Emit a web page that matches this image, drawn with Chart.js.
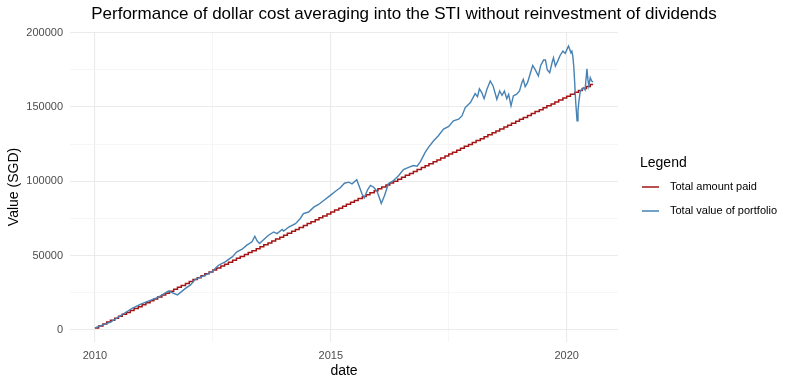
<!DOCTYPE html>
<html>
<head>
<meta charset="utf-8">
<title>STI dollar cost averaging</title>
<script src="https://cdn.jsdelivr.net/npm/chart.js@4.4.1/dist/chart.umd.min.js"></script>
<style>
  html, body { margin: 0; padding: 0; background: #fff; }
  canvas { display: block; }
</style>
</head>
<body>
<canvas id="sti-chart" width="800" height="387"></canvas>
<script>
// monthly payment dates (decimal years) and cumulative amount paid, Jan 2010 - Jul 2020, plus end of data
const paidDates = [
  2010.00, 2010.08, 2010.17, 2010.25, 2010.33, 2010.42, 2010.50, 2010.58, 2010.67, 2010.75, 2010.83, 2010.92,
  2011.00, 2011.08, 2011.17, 2011.25, 2011.33, 2011.42, 2011.50, 2011.58, 2011.67, 2011.75, 2011.83, 2011.92,
  2012.00, 2012.08, 2012.17, 2012.25, 2012.33, 2012.42, 2012.50, 2012.58, 2012.67, 2012.75, 2012.83, 2012.92,
  2013.00, 2013.08, 2013.17, 2013.25, 2013.33, 2013.42, 2013.50, 2013.58, 2013.67, 2013.75, 2013.83, 2013.92,
  2014.00, 2014.08, 2014.17, 2014.25, 2014.33, 2014.42, 2014.50, 2014.58, 2014.67, 2014.75, 2014.83, 2014.92,
  2015.00, 2015.08, 2015.17, 2015.25, 2015.33, 2015.42, 2015.50, 2015.58, 2015.67, 2015.75, 2015.83, 2015.92,
  2016.00, 2016.08, 2016.17, 2016.25, 2016.33, 2016.42, 2016.50, 2016.58, 2016.67, 2016.75, 2016.83, 2016.92,
  2017.00, 2017.08, 2017.17, 2017.25, 2017.33, 2017.42, 2017.50, 2017.58, 2017.67, 2017.75, 2017.83, 2017.92,
  2018.00, 2018.08, 2018.17, 2018.25, 2018.33, 2018.42, 2018.50, 2018.58, 2018.67, 2018.75, 2018.83, 2018.92,
  2019.00, 2019.08, 2019.17, 2019.25, 2019.33, 2019.42, 2019.50, 2019.58, 2019.67, 2019.75, 2019.83, 2019.92,
  2020.00, 2020.08, 2020.17, 2020.25, 2020.33, 2020.42, 2020.50, 2020.56
];
const amountPaid = [
  1300, 2600, 3900, 5200, 6500, 7800, 9100, 10400, 11700, 13000, 14300, 15600,
  16900, 18200, 19500, 20800, 22100, 23400, 24700, 26000, 27300, 28600, 29900, 31200,
  32500, 33800, 35100, 36400, 37700, 39000, 40300, 41600, 42900, 44200, 45500, 46800,
  48100, 49400, 50700, 52000, 53300, 54600, 55900, 57200, 58500, 59800, 61100, 62400,
  63700, 65000, 66300, 67600, 68900, 70200, 71500, 72800, 74100, 75400, 76700, 78000,
  79300, 80600, 81900, 83200, 84500, 85800, 87100, 88400, 89700, 91000, 92300, 93600,
  94900, 96200, 97500, 98800, 100100, 101400, 102700, 104000, 105300, 106600, 107900, 109200,
  110500, 111800, 113100, 114400, 115700, 117000, 118300, 119600, 120900, 122200, 123500, 124800,
  126100, 127400, 128700, 130000, 131300, 132600, 133900, 135200, 136500, 137800, 139100, 140400,
  141700, 143000, 144300, 145600, 146900, 148200, 149500, 150800, 152100, 153400, 154700, 156000,
  157300, 158600, 159900, 161200, 162500, 163800, 165100, 165100
];

// portfolio value
const valueDates = [
  2010.00, 2010.33, 2010.79, 2010.96, 2011.32, 2011.56, 2011.75, 2011.92, 2012.02, 2012.13,
  2012.34, 2012.48, 2012.62, 2012.76, 2012.91, 2013.01, 2013.12, 2013.22, 2013.33, 2013.39,
  2013.44, 2013.49, 2013.58, 2013.68, 2013.79, 2013.86, 2013.97, 2014.00, 2014.11, 2014.25,
  2014.35, 2014.42, 2014.53, 2014.64, 2014.74, 2014.85, 2014.99, 2015.10, 2015.20, 2015.29,
  2015.38, 2015.45, 2015.55, 2015.61, 2015.66, 2015.71, 2015.78, 2015.84, 2015.91, 2015.98,
  2016.05, 2016.07, 2016.14, 2016.22, 2016.33, 2016.44, 2016.54, 2016.65, 2016.75, 2016.83,
  2016.90, 2017.00, 2017.07, 2017.18, 2017.28, 2017.39, 2017.50, 2017.60, 2017.71, 2017.78,
  2017.85, 2017.96, 2018.06, 2018.11, 2018.15, 2018.20, 2018.25, 2018.31, 2018.38, 2018.44,
  2018.52, 2018.58, 2018.63, 2018.68, 2018.73, 2018.77, 2018.82, 2018.87, 2018.94, 2019.00,
  2019.05, 2019.08, 2019.12, 2019.17, 2019.23, 2019.28, 2019.33, 2019.40, 2019.45, 2019.51,
  2019.55, 2019.59, 2019.64, 2019.69, 2019.72, 2019.76, 2019.81, 2019.86, 2019.92, 2019.97,
  2020.02, 2020.04, 2020.09, 2020.11, 2020.13, 2020.15, 2020.17, 2020.19, 2020.22, 2020.24,
  2020.26, 2020.29, 2020.33, 2020.36, 2020.39, 2020.43, 2020.45, 2020.47, 2020.50, 2020.53,
  2020.56
];
const portfolioValue = [
  1300, 5200, 14500, 17200, 21600, 26100, 23500, 27900, 30100, 34000,
  36800, 39100, 43500, 45800, 49100, 52500, 54300, 57000, 59200, 63000,
  59800, 58100, 60800, 63700, 65900, 64800, 67500, 66500, 69200, 71500,
  74800, 78200, 79300, 82600, 84400, 87100, 90500, 93300, 95600, 98700,
  99400, 98300, 101000, 96000, 91600, 88900, 94300, 97200, 96000, 93300,
  87100, 85100, 90500, 98300, 100500, 103900, 107900, 109400, 110600, 110100,
  113200, 119500, 122800, 127300, 130700, 135100, 136900, 140700, 141800, 144000,
  149600, 153000, 159000, 157000, 162300, 159700, 155600, 161900, 167500, 164200,
  155200, 160800, 157900, 160800, 155600, 158600, 150800, 157500, 158600, 160800,
  166400, 168600, 163700, 166400, 172700, 178000, 175300, 170900, 178000, 181600,
  181600, 174900, 173100, 179800, 183100, 177500, 180900, 184700, 187600, 186100,
  189800, 191000, 186500, 187600, 184300, 177500, 166400, 154100, 140700, 147400,
  154100, 160800, 161900, 163000, 161500, 175700, 168600, 164200, 169700, 167500,
  166800
];

const xTicks = [2010, 2012.5, 2015, 2017.5, 2020];
const yTicks = [0, 25000, 50000, 75000, 100000, 125000, 150000, 175000, 200000];

const seriesNames = ['Total amount paid', 'Total value of portfolio'];
const seriesColors = ['#a31515', '#4682b4'];

const fontFamily = '"Liberation Sans", Arial, Helvetica, sans-serif';

// title and legend drawn in the free space around the plot
const annotations = {
  id: 'annotations',
  afterDraw(chart) {
    const ctx = chart.ctx;
    ctx.save();
    ctx.fillStyle = '#000';
    ctx.textBaseline = 'middle';
    ctx.font = '17px ' + fontFamily;
    ctx.textAlign = 'center';
    ctx.fillText('Performance of dollar cost averaging into the STI without reinvestment of dividends', 404, 14);

    ctx.textAlign = 'left';
    ctx.font = '14px ' + fontFamily;
    ctx.fillText('Legend', 640, 163);
    ctx.font = '11px ' + fontFamily;
    seriesNames.forEach((name, i) => {
      const y = 187 + i * 24;
      ctx.strokeStyle = seriesColors[i];
      ctx.lineWidth = 1.5;
      ctx.beginPath();
      ctx.moveTo(642, y);
      ctx.lineTo(659, y);
      ctx.stroke();
      ctx.fillText(name, 670, y);
    });
    ctx.restore();
  }
};

new Chart(document.getElementById('sti-chart').getContext('2d'), {
  type: 'line',
  data: {
    datasets: [
      {
        label: seriesNames[1],
        data: valueDates.map((d, i) => ({ x: d, y: portfolioValue[i] })),
        borderColor: seriesColors[1],
        borderWidth: 1.4,
        pointRadius: 0,
        tension: 0
      },
      {
        label: seriesNames[0],
        data: paidDates.map((d, i) => ({ x: d, y: amountPaid[i] })),
        borderColor: seriesColors[0],
        borderWidth: 1.5,
        pointRadius: 0,
        stepped: 'before'
      }
    ]
  },
  options: {
    responsive: false,
    animation: false,
    layout: { padding: { top: 32, right: 182, left: 0, bottom: 0 } },
    plugins: {
      legend: { display: false },
      title: { display: false },
      tooltip: { enabled: false }
    },
    scales: {
      x: {
        type: 'linear',
        min: 2009.472,
        max: 2021.088,
        afterBuildTicks: axis => { axis.ticks = xTicks.map(v => ({ value: v })); },
        afterFit: axis => { axis.height = 45; },
        border: { display: false },
        grid: {
          drawTicks: false,
          color: c => (c.tick && c.tick.value % 5 === 0) ? '#ebebeb' : '#f4f4f4',
          lineWidth: c => (c.tick && c.tick.value % 5 === 0) ? 1.1 : 0.8
        },
        ticks: {
          padding: 7,
          color: '#4d4d4d',
          font: { family: fontFamily, size: 11 },
          maxRotation: 0,
          callback: v => (v % 5 === 0 ? String(v) : '')
        },
        title: {
          display: true,
          text: 'date',
          color: '#000',
          font: { family: fontFamily, size: 14 },
          padding: { top: 0, bottom: 7 }
        }
      },
      y: {
        type: 'linear',
        min: -8200,
        max: 200500,
        afterBuildTicks: axis => { axis.ticks = yTicks.map(v => ({ value: v })); },
        afterFit: axis => { axis.width = 70; },
        border: { display: false },
        grid: {
          drawTicks: false,
          color: c => (c.tick && c.tick.value % 50000 === 0) ? '#ebebeb' : '#f4f4f4',
          lineWidth: c => (c.tick && c.tick.value % 50000 === 0) ? 1.1 : 0.8
        },
        ticks: {
          padding: 7,
          color: '#4d4d4d',
          font: { family: fontFamily, size: 11 },
          callback: v => (v % 50000 === 0 ? String(v) : '')
        },
        title: {
          display: true,
          text: 'Value (SGD)',
          color: '#000',
          font: { family: fontFamily, size: 14 },
          padding: { top: 6, bottom: 0 }
        }
      }
    }
  },
  plugins: [annotations]
});
</script>
</body>
</html>
